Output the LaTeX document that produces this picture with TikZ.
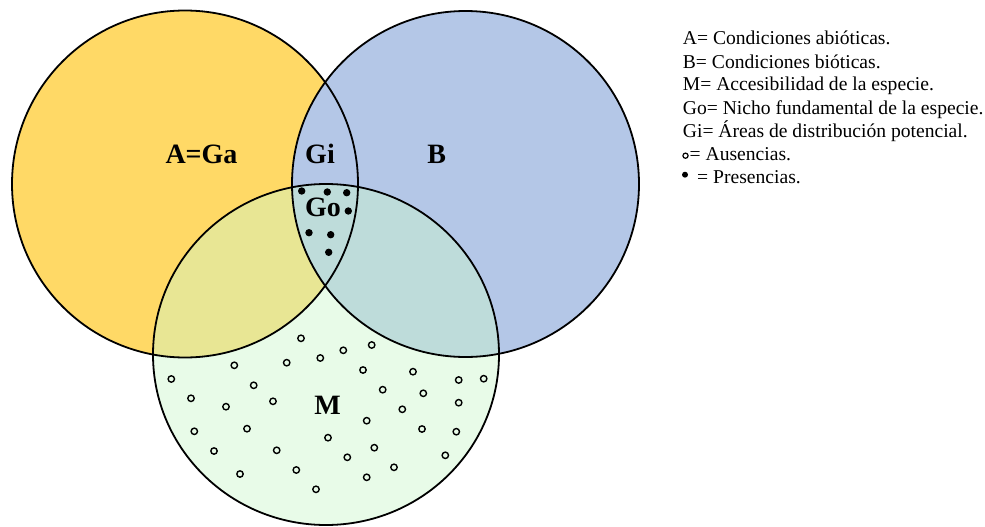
\documentclass[tikz,border=0pt]{standalone}
\usepackage{fontspec}
\setmainfont{Liberation Serif}
\begin{document}
\begin{tikzpicture}[x=1pt,y=-1pt,
  setA/.style={fill=colA},
  setB/.style={fill=colB},
  setM/.style={fill=colM,fill opacity=0.45},
  rim/.style={draw=black,line width=1.8pt},
  biglabel/.style={font=\fontsize{28}{30}\selectfont\bfseries,anchor=base,inner sep=0pt},
  legend/.style={font=\fontsize{19.6}{23}\selectfont,anchor=base west,inner sep=0pt},
  presence/.style={fill=black,draw=none},
  absence/.style={draw=black,line width=1.4pt,fill=none}]
\definecolor{colA}{RGB}{255,217,102}
\definecolor{colB}{RGB}{180,199,231}
\definecolor{colM}{RGB}{204,246,204}
\useasboundingbox (0,0) rectangle (985,527);

% the three sets
\fill[setA] (185,184) ellipse [x radius=173, y radius=173.5];
\fill[setB] (465.5,184) ellipse [x radius=173.5, y radius=173];
\fill[setM] (326,354.5) ellipse [x radius=173, y radius=170.5];
\draw[rim] (185,184) ellipse [x radius=173, y radius=173.5];
\draw[rim] (465.5,184) ellipse [x radius=173.5, y radius=173];
\draw[rim] (326,354.5) ellipse [x radius=173, y radius=170.5];

% presences inside Go
\foreach \px/\py in {301.7/191, 327.3/192, 346.7/192.7, 348.3/211,
                     309/232.7, 330.7/234.7, 328.7/252.3}
  \fill[presence] (\px,\py) circle [radius=3.7];

% absences inside M
\foreach \ax/\ay in {301/338.3, 371.7/345, 343.3/350.3, 320.3/358, 286.7/362.7,
                     234.3/365.3, 363/370, 413/371.7, 171.3/379, 458.7/380,
                     483.7/378.7, 253.7/385.3, 382.7/389.7, 423.3/393.3, 191/398.3,
                     273/401.3, 458.7/402.7, 226/406.7, 402.3/409.3, 366.7/420.7,
                     247/428.7, 422/429, 194.3/431.3, 456.3/431.7, 328/437.7,
                     374.3/447.7, 214/451, 276.7/450.3, 347.3/457.3, 445.3/455.3,
                     394/467.3, 240/474, 296.3/470, 366.7/477.3, 316/489.3}
  \draw[absence] (\ax,\ay) circle [radius=3.2];

% region labels
\node[biglabel] (lblA) at (201.5,163) {A=Ga};
\node[biglabel] (lblGi) at (320,163) {Gi};
\node[biglabel] (lblB) at (436.7,163) {B};
\node[biglabel] (lblGo) at (323,216.7) {Go};
\node[biglabel] (lblM) at (327.7,414) {M};

% key
\node[legend] (keyA) at (682.7,45) {A= Condiciones abióticas.};
\node[legend] (keyB) at (682.7,68) {B= Condiciones bióticas.};
\node[legend] (keyM) at (682.7,91) {M= Accesibilidad de la especie.};
\node[legend] (keyGo) at (682.7,114.2) {Go= Nicho fundamental de la especie.};
\node[legend] (keyGi) at (682.7,137.3) {Gi= Áreas de distribución potencial.};
\draw[black,line width=1.2pt] (685.5,155.7) circle [radius=2.6];
\node[legend] (keyAbs) at (689.5,160.3) {= Ausencias.};
\fill[black] (685,174.7) circle [radius=3];
\node[legend] (keyPres) at (697,183.4) {= Presencias.};
\end{tikzpicture}
\end{document}
